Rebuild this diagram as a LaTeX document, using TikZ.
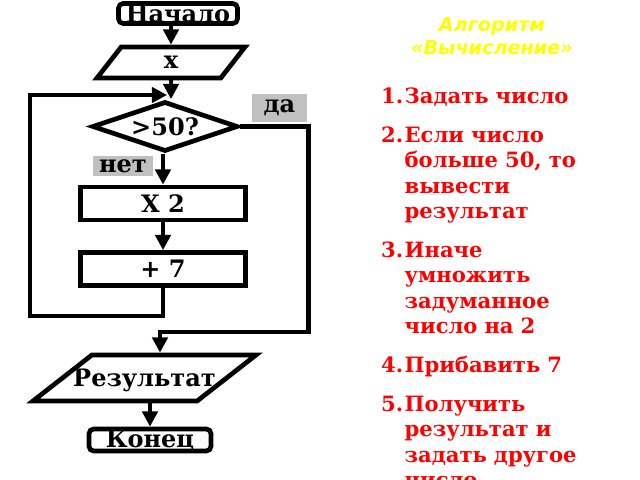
\documentclass[tikz,border=0pt]{standalone}
\usepackage{fontspec}
\setmainfont{DejaVu Serif}
\newfontfamily\headfont{DejaVu Sans}
\usetikzlibrary{shapes.geometric,arrows.meta}
\definecolor{steptext}{HTML}{FF0000}
\definecolor{headtext}{HTML}{FFFF00}
\definecolor{labelgrey}{HTML}{C0C0C0}
\newcommand{\itm}[2]{\noindent\hangindent=20pt\hangafter=1\makebox[20pt][l]{#1}#2\par\vspace{11.5pt}}

\tikzset{
  flow/.style={draw, line width=4pt, inner sep=0pt, font=\fontsize{20.5}{24}\selectfont\bfseries},
  term/.style={flow, rectangle, rounded corners=4pt},
  proc/.style={flow, rectangle},
  io/.style={flow, trapezium, trapezium stretches body},
  cond/.style={flow, diamond, shape aspect=3},
  tag/.style={fill=labelgrey, inner sep=0pt, font=\fontsize{20.5}{24}\selectfont\bfseries},
  arr/.style={line width=4pt, -{Triangle[length=13pt,width=13pt]}},
  head/.style={align=center, text=headtext, inner sep=0pt,
    font=\headfont\fontsize{16.4}{19.6}\selectfont\bfseries\itshape},
  steps/.style={text width=7.6cm, align=left, text=steptext, inner sep=0pt,
    font=\fontsize{18}{21.7}\selectfont\bfseries}
}

\begin{document}
\begin{tikzpicture}[x=0.03cm, y=-0.03cm]
  \clip (0,0) rectangle (640,480);

  % flowchart
  \node[term, minimum width=3.57cm, minimum height=0.6cm] (start) at (178,13.5) {Начало};
  \node[io, trapezium left angle=52, trapezium right angle=128,
        minimum width=4.44cm, text height=0.655cm, text depth=0.275cm] (inx) at (171,62.5) {x};
  \node[cond, minimum width=4.38cm, minimum height=1.5cm] (dec) at (165,126.5) {>50?};
  \node[proc, minimum width=4.95cm, minimum height=0.99cm] (mul) at (163,203.5) {X 2};
  \node[proc, minimum width=4.95cm, minimum height=0.99cm] (add) at (163,269) {+ 7};
  \node[io, trapezium left angle=38, trapezium right angle=142,
        minimum width=6.69cm, text height=0.955cm, text depth=0.425cm] (res) at (144.5,378)
        {\makebox[2.5cm]{Результат}};
  \node[term, minimum width=3.66cm, minimum height=0.66cm] (stop) at (150,440) {Конец};

  \node[tag, minimum width=1.65cm, minimum height=0.84cm] (yes) at (279.5,108) {да};
  \node[tag, minimum width=1.8cm, minimum height=0.6cm] (no) at (123,166) {нет};

  \coordinate (join) at (170,95);
  \coordinate (back) at (160,332);

  \draw[arr] (inx.north |- start.south) -- (inx.north);
  \draw[arr] (inx.south) -- (inx.south |- dec.north);
  \draw[arr] (mul.north |- dec.south) -- (mul.north);
  \draw[arr] (mul.south) -- (add.north);
  \draw[arr, shorten >=2.5pt] (add.south) |- (30,316) |- (join);
  \draw[arr] (dec.east) -- ++(68,0) |- (back) -- (back |- res.north);
  \draw[arr] (stop.north |- res.south) -- (stop.north);

  % algorithm text
  \node[head] (title) at (492,36) {Алгоритм\\«Вычисление»};
  \node[steps, anchor=north west] (plan) at (381,87.5) {%
    \itm{1.}{Задать число}
    \itm{2.}{Если число\newline больше 50, то\newline вывести\newline результат}
    \itm{3.}{Иначе\newline умножить\newline задуманное\newline число на 2}
    \itm{4.}{Прибавить 7}
    \itm{5.}{Получить\newline результат и\newline задать другое\newline число}};
\end{tikzpicture}
\end{document}
